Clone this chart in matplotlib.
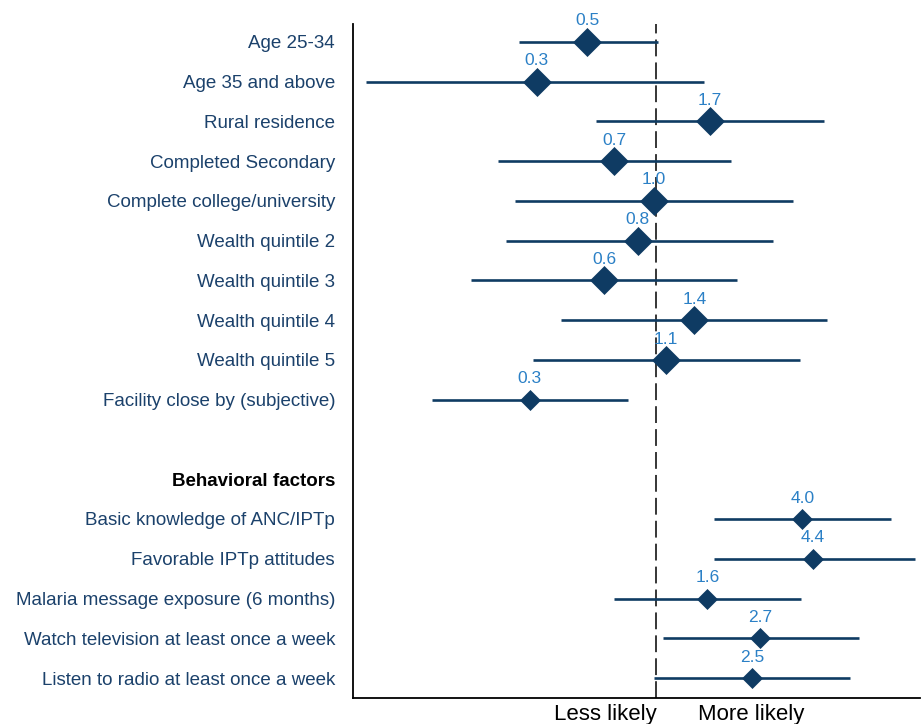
import matplotlib
matplotlib.use("Agg")
import matplotlib.pyplot as plt

plt.rcParams['font.family'] = ['Liberation Sans', 'DejaVu Sans']

# socio-demographic factors
socio_labels = [
    "Age 25-34", "Age 35 and above", "Rural residence", "Completed Secondary",
    "Complete college/university", "Wealth quintile 2", "Wealth quintile 3",
    "Wealth quintile 4", "Wealth quintile 5", "Facility close by (subjective)",
]
socio_or = [0.52, 0.32, 1.67, 0.67, 0.98, 0.84, 0.61, 1.44, 1.10, 0.30]
socio_lo = [0.27, 0.063, 0.565, 0.222, 0.261, 0.24, 0.172, 0.405, 0.31, 0.118]
socio_hi = [1.02, 1.58, 4.95, 2.04, 3.69, 3.05, 2.16, 5.10, 3.94, 0.766]

# behavioral factors
header = "Behavioral factors"
behav_labels = [
    "Basic knowledge of ANC/IPTp", "Favorable IPTp attitudes",
    "Malaria message exposure (6 months)", "Watch television at least once a week",
    "Listen to radio at least once a week",
]
behav_or = [4.02, 4.44, 1.63, 2.69, 2.49]
behav_lo = [1.74, 1.74, 0.67, 1.07, 0.98]
behav_hi = [9.37, 11.8, 3.98, 6.91, 6.35]

dark = '#0f3b63'
txt_col = '#1b416b'
val_col = '#2b80c6'

fig = plt.figure(figsize=(9.22, 7.24), dpi=100)
ax = fig.add_axes([0.383, 0.036, 0.615, 0.931])

socio_y = list(range(len(socio_labels)))
header_y = len(socio_labels) + 1
behav_y = [header_y + 1 + i for i in range(len(behav_labels))]

rows = list(zip(socio_y, socio_or, socio_lo, socio_hi)) + list(zip(behav_y, behav_or, behav_lo, behav_hi))
for i, (y, v, lo, hi) in enumerate(rows):
    ms = 13.8 if i < 9 else 10.0
    ax.hlines(y, lo, hi, color=dark, lw=1.9, zorder=2)
    ax.plot(v, y, marker='D', ms=ms, color=dark, mec=dark, mew=0.5, zorder=3)
    ax.annotate(f"{v:.1f}", (v, y), xytext=(0, 11.8), textcoords='offset points',
                ha='center', va='baseline', color=val_col, fontsize=12.5)

ax.axvline(1, color='black', lw=1.1, ls=(0, (11, 4)), zorder=1)

ax.set_xscale('log')
ax.set_xlim(0.0558, 12.36)
ax.set_ylim(16.5, -0.45)
ax.tick_params(axis='x', which='both', bottom=False, labelbottom=False)

ax.set_yticks(socio_y + [header_y] + behav_y)
ax.set_yticklabels(socio_labels + [header] + behav_labels, fontsize=13.5, color=txt_col)
ax.tick_params(axis='y', length=0, pad=13)
for t in ax.get_yticklabels():
    if t.get_text() == header:
        t.set_fontweight('bold')
        t.set_color('black')

for s in ['top', 'right']:
    ax.spines[s].set_visible(False)
for s in ['left', 'bottom']:
    ax.spines[s].set_color('black')
    ax.spines[s].set_linewidth(1.3)

ax.annotate("Less likely", xy=(1, 0), xycoords=('data', 'axes fraction'),
            xytext=(0.5, -15.8), textcoords='offset points', ha='right', va='baseline',
            fontsize=16, color='black')
ax.annotate("More likely", xy=(1, 0), xycoords=('data', 'axes fraction'),
            xytext=(30, -15.8), textcoords='offset points', ha='left', va='baseline',
            fontsize=16, color='black')

fig.savefig('out.png', dpi=100)
